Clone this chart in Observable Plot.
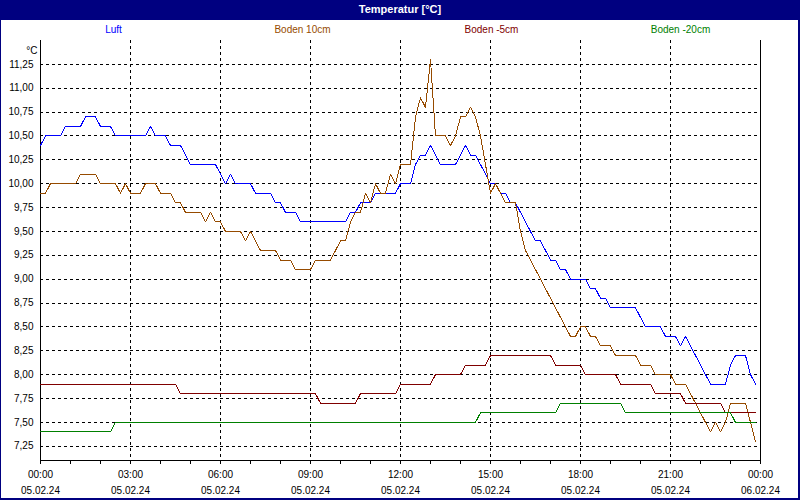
<!DOCTYPE html>
<html><head><meta charset="utf-8">
<script src="https://cdn.jsdelivr.net/npm/d3@7"></script>
<script src="https://cdn.jsdelivr.net/npm/@observablehq/plot@0.6"></script>
<style>
body{margin:0;background:#fff;}
#wrap{position:relative;width:800px;height:500px;overflow:hidden;background:#fff;font-family:"Liberation Sans",Arial,sans-serif;}
#title{height:20px;line-height:19px;background:#000080;color:#fff;font-weight:bold;font-size:11px;text-align:center;}
#legend{height:20px;display:flex;padding-left:19px;font-size:10px;line-height:20px;}
#legend span{width:189px;text-align:center;}
#chart svg{display:block;}
#chart svg path,#chart svg line{shape-rendering:crispEdges;}
#border{position:absolute;left:0;top:0;width:800px;height:500px;box-sizing:border-box;border-left:1px solid #000080;border-right:2px solid #000080;border-bottom:2px solid #000080;pointer-events:none;}
</style></head>
<body>
<div id="wrap">
  <div id="title">Temperatur [°C]</div>
  <div id="legend"></div>
  <div id="chart"></div>
  <div id="border"></div>
</div>
<script>
const titleText = "Temperatur [°C]";
const seriesNames = ["Luft", "Boden 10cm", "Boden -5cm", "Boden -20cm"];
const seriesColors = ["#0000ff", "#964b00", "#800000", "#008000"];

// [time, °C] breakpoints
const luft = [["00:00",10.4],["00:10",10.5],["00:40",10.5],["00:50",10.6],["01:20",10.6],["01:30",10.7],["01:50",10.7],["02:00",10.6],["02:20",10.6],["02:30",10.5],["03:30",10.5],["03:40",10.6],["03:50",10.5],["04:10",10.5],["04:20",10.4],["04:40",10.4],["04:50",10.3],["05:00",10.2],["05:50",10.2],["06:00",10.1],["06:10",10.0],["06:20",10.1],["06:30",10.0],["07:00",10.0],["07:10",9.9],["07:40",9.9],["07:50",9.8],["08:00",9.8],["08:10",9.7],["08:30",9.7],["08:40",9.6],["10:10",9.6],["10:20",9.7],["10:30",9.7],["10:40",9.8],["11:00",9.8],["11:10",9.9],["11:50",9.9],["12:00",10.0],["12:20",10.0],["12:30",10.2],["12:40",10.3],["12:50",10.3],["13:00",10.4],["13:10",10.3],["13:20",10.2],["13:50",10.2],["14:00",10.3],["14:10",10.4],["14:20",10.3],["14:30",10.3],["14:40",10.2],["14:50",10.1],["15:00",10.0],["15:10",10.0],["15:20",9.9],["15:30",9.9],["15:40",9.8],["15:50",9.8],["16:00",9.7],["16:10",9.6],["16:20",9.5],["16:30",9.4],["16:40",9.4],["16:50",9.3],["17:00",9.2],["17:10",9.2],["17:20",9.1],["17:30",9.1],["17:40",9.0],["18:10",9.0],["18:20",8.9],["18:30",8.9],["18:40",8.8],["18:50",8.8],["19:00",8.7],["19:50",8.7],["20:00",8.6],["20:10",8.5],["20:40",8.5],["20:50",8.4],["21:10",8.4],["21:20",8.3],["21:30",8.4],["21:40",8.3],["21:50",8.2],["22:00",8.1],["22:10",8.0],["22:20",7.9],["22:50",7.9],["23:00",8.1],["23:10",8.2],["23:30",8.2],["23:40",8.0],["23:50",7.9]];

const boden10 = [["00:00",9.9],["00:10",9.9],["00:20",10.0],["01:10",10.0],["01:20",10.1],["01:50",10.1],["02:00",10.0],["02:30",10.0],["02:40",9.9],["02:50",10.0],["03:00",9.9],["03:20",9.9],["03:30",10.0],["03:50",10.0],["04:00",9.9],["04:20",9.9],["04:30",9.8],["04:40",9.8],["04:50",9.7],["05:20",9.7],["05:30",9.6],["05:40",9.7],["05:50",9.6],["06:00",9.6],["06:10",9.5],["06:40",9.5],["06:50",9.4],["07:00",9.5],["07:10",9.4],["07:20",9.3],["07:50",9.3],["08:00",9.2],["08:20",9.2],["08:30",9.1],["09:00",9.1],["09:10",9.2],["09:40",9.2],["09:50",9.3],["10:00",9.4],["10:10",9.4],["10:20",9.6],["10:30",9.7],["10:40",9.7],["10:50",9.9],["11:00",9.8],["11:10",10.0],["11:20",9.9],["11:30",9.9],["11:40",10.1],["11:50",10.0],["12:00",10.2],["12:20",10.2],["12:30",10.7],["12:40",10.9],["12:50",10.8],["13:00",11.3],["13:10",10.5],["13:30",10.5],["13:40",10.4],["13:50",10.5],["14:00",10.7],["14:10",10.7],["14:20",10.8],["14:30",10.7],["14:40",10.5],["14:50",10.2],["15:00",9.9],["15:10",10.0],["15:20",9.9],["15:30",9.8],["15:50",9.8],["16:00",9.5],["16:10",9.3],["16:20",9.2],["16:30",9.1],["16:40",9.0],["16:50",8.9],["17:00",8.8],["17:10",8.7],["17:20",8.6],["17:30",8.5],["17:40",8.4],["17:50",8.4],["18:00",8.5],["18:10",8.5],["18:20",8.4],["18:30",8.4],["18:40",8.3],["19:00",8.3],["19:10",8.2],["19:50",8.2],["20:00",8.1],["20:20",8.1],["20:30",8.0],["21:00",8.0],["21:10",7.9],["21:30",7.9],["21:40",7.8],["21:50",7.7],["22:00",7.6],["22:10",7.5],["22:20",7.4],["22:30",7.5],["22:40",7.4],["22:50",7.5],["23:00",7.7],["23:30",7.7],["23:40",7.5],["23:50",7.3]];

const bodenM5 = [["00:00",7.9],["04:30",7.9],["04:40",7.8],["09:10",7.8],["09:20",7.7],["10:30",7.7],["10:40",7.8],["11:50",7.8],["12:00",7.9],["13:00",7.9],["13:10",8.0],["14:00",8.0],["14:10",8.1],["14:50",8.1],["15:00",8.2],["17:00",8.2],["17:10",8.1],["18:00",8.1],["18:10",8.0],["19:10",8.0],["19:20",7.9],["20:20",7.9],["20:30",7.8],["21:20",7.8],["21:30",7.7],["22:40",7.7],["22:50",7.6],["23:50",7.6]];

const bodenM20 = [["00:00",7.4],["02:20",7.4],["02:30",7.5],["14:30",7.5],["14:40",7.6],["17:10",7.6],["17:20",7.7],["19:20",7.7],["19:30",7.6],["23:00",7.6],["23:10",7.5],["23:50",7.5]];

const yTicks = [7.25, 7.5, 7.75, 8, 8.25, 8.5, 8.75, 9, 9.25, 9.5, 9.75, 10, 10.25, 10.5, 10.75, 11, 11.25];
const yTickLabels = ["7,25","7,50","7,75","8,00","8,25","8,50","8,75","9,00","9,25","9,50","9,75","10,00","10,25","10,50","10,75","11,00","11,25"];
const yUnit = "°C";
const yDomain = [7.1, 11.5];
const xDomain = [0, 24];
const xTickHours = [0, 3, 6, 9, 12, 15, 18, 21, 24];
const xTimeLabels = ["00:00","03:00","06:00","09:00","12:00","15:00","18:00","21:00","00:00"];
const xDateLabels = ["05.02.24","05.02.24","05.02.24","05.02.24","05.02.24","05.02.24","05.02.24","05.02.24","06.02.24"];
const xGridHours = [3, 6, 9, 12, 15, 18, 21];
const xMinorHours = d3.range(0, 25);

const toHour = s => +s.slice(0, 2) + +s.slice(3, 5) / 60;
const seriesData = [luft, boden10, bodenM5, bodenM20].map((arr, k) =>
  arr.map(([t, v]) => ({series: seriesNames[k], hour: toHour(t), value: v})));

document.getElementById("title").textContent = titleText;
const legend = document.getElementById("legend");
seriesNames.forEach((n, i) => {
  const s = document.createElement("span");
  s.textContent = n; s.style.color = seriesColors[i];
  legend.appendChild(s);
});

const font = "'Liberation Sans', Arial, sans-serif";
const chart = Plot.plot({
  width: 800, height: 460,
  marginTop: 0, marginBottom: 40, marginLeft: 40, marginRight: 40,
  style: {fontFamily: font, fontSize: "10px", background: "#fff", color: "#000", overflow: "visible"},
  x: {domain: xDomain, axis: null, label: null},
  y: {domain: yDomain, axis: null, label: null},
  marks: [
    Plot.gridY(yTicks, {stroke: "#000", strokeOpacity: 1, strokeWidth: 1, strokeDasharray: "3,3"}),
    Plot.gridX(xGridHours, {stroke: "#000", strokeOpacity: 1, strokeWidth: 1, strokeDasharray: "3,3"}),
    Plot.ruleX([xDomain[0], xDomain[1]], {stroke: "#000", strokeWidth: 1}),
    Plot.ruleY([yDomain[0]], {stroke: "#000", strokeWidth: 1}),
    Plot.axisY(yTicks, {tickSize: 0, tickPadding: 7, label: null, fill: "#000",
      tickFormat: d => yTickLabels[yTicks.indexOf(d)]}),
    Plot.axisX(xMinorHours, {tickSize: 4, label: null, tickFormat: () => "", stroke: "#000"}),
    Plot.axisX(xTickHours, {tickSize: 0, tickPadding: 10, label: null, fill: "#000",
      tickFormat: d => xTimeLabels[xTickHours.indexOf(d)]}),
    Plot.axisX(xTickHours, {tickSize: 0, tickPadding: 26, label: null, fill: "#000",
      tickFormat: d => xDateLabels[xTickHours.indexOf(d)]}),
    Plot.text([yUnit], {frameAnchor: "top-left", dx: -3, dy: 6, textAnchor: "end", fill: "#000"}),
    ...seriesData.map((rows, k) =>
      Plot.lineY(rows, {x: "hour", y: "value", stroke: seriesColors[k], strokeWidth: 1}))
  ]
});
document.getElementById("chart").appendChild(chart);
</script>
</body></html>
